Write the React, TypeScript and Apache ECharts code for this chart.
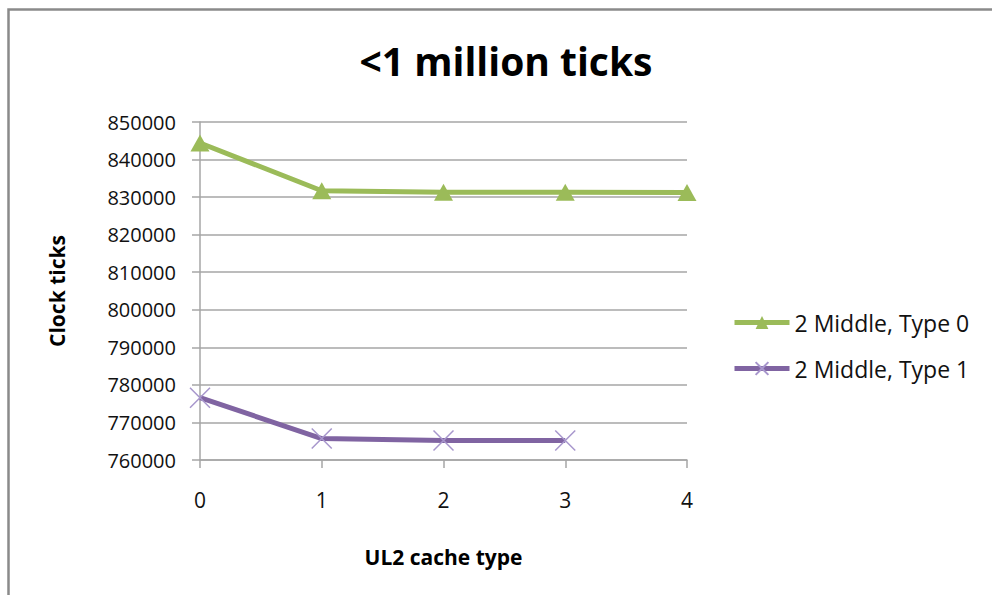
import React, { useEffect, useRef } from "react";
import * as echarts from "echarts";

// UL2 cache type on the x axis, clock ticks on the y axis
const cacheTypes = [0, 1, 2, 3, 4];
const type0Ticks = [844400, 831700, 831300, 831300, 831200];
const type1Ticks = [776600, 765700, 765200, 765200];
const seriesNames = ["2 Middle, Type 0", "2 Middle, Type 1"];
const titleText = "<1 million ticks";
const xAxisName = "UL2 cache type";
const yAxisName = "Clock ticks";

const FONT = "'Open Sans', 'DejaVu Sans', sans-serif";
const CROSS = "path://M0,0L10,10M10,0L0,10";

export default function App() {
  const ref = useRef<HTMLDivElement>(null);

  useEffect(() => {
    if (!ref.current) return;
    const chart = echarts.init(ref.current, undefined, { renderer: "svg" });
    const pairs = (vals: number[]) => vals.map((v, i) => [cacheTypes[i], v]);

    chart.setOption({
      animation: false,
      backgroundColor: "#ffffff",
      title: {
        text: titleText,
        left: 501,
        textAlign: "center",
        top: 36,
        textStyle: { fontFamily: FONT, fontSize: 39, fontWeight: "bold", color: "#000" },
      },
      grid: { left: 200, right: 305, top: 122, bottom: 135 },
      legend: {
        orient: "vertical",
        left: 727,
        top: 306,
        itemWidth: 55,
        itemHeight: 16,
        itemGap: 23,
        lineStyle: { width: 5 },
        textStyle: { fontFamily: FONT, fontSize: 23, color: "#111", lineHeight: 20 },
        data: seriesNames,
      },
      xAxis: {
        type: "value",
        min: 0,
        max: 4,
        interval: 1,
        name: xAxisName,
        nameLocation: "middle",
        nameGap: 86,
        nameTextStyle: { fontFamily: FONT, fontSize: 21, fontWeight: "bold", color: "#000" },
        axisLine: { show: true, lineStyle: { color: "#a6a6a6", width: 1.5 } },
        axisTick: { show: true, length: 8, lineStyle: { color: "#a6a6a6", width: 1.5 } },
        axisLabel: { fontFamily: FONT, fontSize: 21, color: "#111", margin: 29 },
        splitLine: { show: false },
      },
      yAxis: {
        type: "value",
        min: 760000,
        max: 850000,
        interval: 10000,
        name: yAxisName,
        nameLocation: "middle",
        nameRotate: 90,
        nameGap: 133,
        nameTextStyle: { fontFamily: FONT, fontSize: 21, fontWeight: "bold", color: "#000" },
        axisLine: { show: true, lineStyle: { color: "#a6a6a6", width: 1.5 } },
        axisTick: { show: true, length: 8, lineStyle: { color: "#a6a6a6", width: 1.5 } },
        axisLabel: {
          fontFamily: FONT,
          fontSize: 20,
          color: "#111",
          margin: 24,
          formatter: (v: number) => String(v),
        },
        splitLine: { show: true, lineStyle: { color: "#a6a6a6", width: 1.5 } },
      },
      series: [
        {
          name: seriesNames[0],
          type: "line",
          data: pairs(type0Ticks),
          symbol: "triangle",
          symbolSize: [19, 17],
          lineStyle: { color: "#9bbb59", width: 5 },
          itemStyle: { color: "#9bbb59" },
        },
        {
          name: seriesNames[1],
          type: "line",
          data: pairs(type1Ticks),
          symbol: CROSS,
          symbolSize: 20,
          lineStyle: { color: "#8064a2", width: 5 },
          itemStyle: { color: "rgba(0,0,0,0)", borderColor: "#a796cc", borderWidth: 1.5 },
        },
      ],
      graphic: [
        {
          type: "polyline",
          shape: { points: [[8.5, 595], [8.5, 9.5], [992, 9.5]] },
          style: { stroke: "#8a8a8a", lineWidth: 2.5, fill: null },
          silent: true,
        },
      ],
    });

    return () => chart.dispose();
  }, []);

  return (
    <div
      ref={ref}
      style={{ position: "absolute", left: 0, top: 0, width: 992, height: 595 }}
    />
  );
}
